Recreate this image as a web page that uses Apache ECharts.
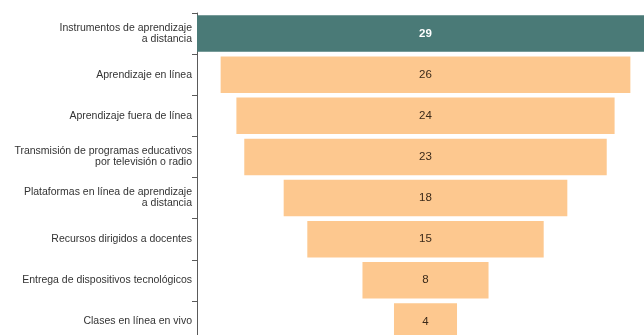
<!DOCTYPE html>
<html>
<head>
<meta charset="utf-8">
<style>
  html, body { margin: 0; padding: 0; background: #ffffff; }
  #chart { width: 644px; height: 335px; }
</style>
<script src="https://cdn.jsdelivr.net/npm/echarts@6/dist/echarts.min.js"></script>
</head>
<body>
<div id="chart"></div>
<script>
// Education continuity measures and the number of countries adopting each
const categories = [
  'Instrumentos de aprendizaje\na distancia',
  'Aprendizaje en línea',
  'Aprendizaje fuera de línea',
  'Transmisión de programas educativos\npor televisión o radio',
  'Plataformas en línea de aprendizaje\na distancia',
  'Recursos dirigidos a docentes',
  'Entrega de dispositivos tecnológicos',
  'Clases en línea en vivo'
];
const values = [29, 26, 24, 23, 18, 15, 8, 4];

const maxValue = Math.max(...values);
const fontFamily = '"Liberation Sans", Arial, sans-serif';

// Invisible leading segment so each bar sits centred (funnel shape)
const offsets = values.map(v => (maxValue - v) / 2);

const chart = echarts.init(document.getElementById('chart'), null, { renderer: 'canvas' });

chart.setOption({
  animation: false,
  grid: {
    left: 197, right: -10, top: 13, bottom: -7,
    containLabel: false,
    outerBoundsMode: 'none'
  },
  xAxis: {
    type: 'value',
    min: 0,
    max: maxValue,
    show: false
  },
  yAxis: {
    type: 'category',
    data: categories,
    inverse: true,
    axisLine: { show: true, lineStyle: { color: '#5a5a5a', width: 1 } },
    axisTick: { show: true, length: 5, lineStyle: { color: '#5a5a5a' } },
    axisLabel: {
      margin: 5,
      color: '#333333',
      fontFamily: fontFamily,
      fontSize: 10.5,
      lineHeight: 11,
      align: 'right'
    }
  },
  series: [
    {
      type: 'bar',
      stack: 'funnel',
      data: offsets,
      silent: true,
      itemStyle: { color: 'rgba(0,0,0,0)' },
      barCategoryGap: '11%'
    },
    {
      type: 'bar',
      stack: 'funnel',
      barCategoryGap: '11%',
      data: values.map((v, i) => ({
        value: v,
        itemStyle: { color: i === 0 ? '#4a7a77' : '#fdc88f' },
        label: i === 0
          ? { color: '#ffffff', fontWeight: 'bold' }
          : { color: '#3b2a1a', fontWeight: 'normal' }
      })),
      label: {
        show: true,
        position: 'inside',
        fontFamily: fontFamily,
        fontSize: 11.5
      }
    }
  ]
});
</script>
</body>
</html>
